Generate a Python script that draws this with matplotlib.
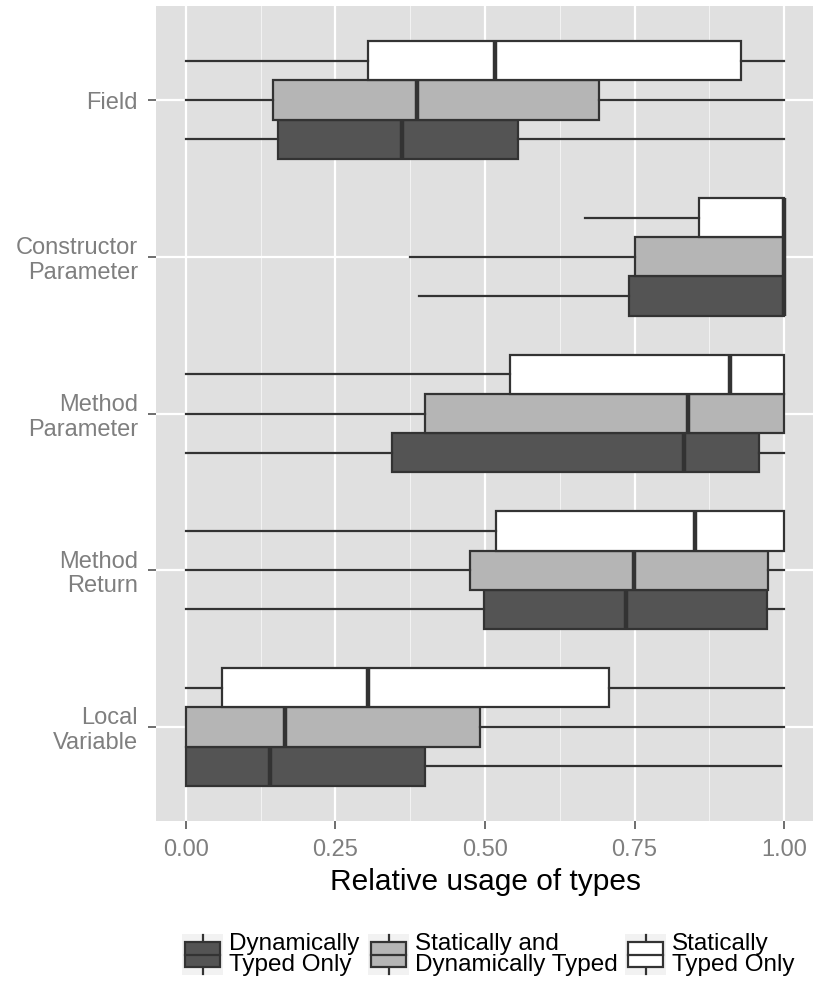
import matplotlib
matplotlib.use('Agg')
import matplotlib.pyplot as plt
from matplotlib.patches import Rectangle

plt.rcParams['font.family'] = ['Liberation Sans', 'DejaVu Sans']

# categories, top to bottom
categories = ['Field', 'Constructor\nParameter', 'Method\nParameter', 'Method\nReturn', 'Local\nVariable']
groups = ['Dynamically\nTyped Only', 'Statically and\nDynamically Typed', 'Statically\nTyped Only']
fills = ['#545454', '#b5b5b5', '#ffffff']

# box stats per group: (whislo, q1, med, q3, whishi) per category
dyn_stats = [
    (0.0, 0.154, 0.362, 0.555, 1.0),
    (0.389, 0.740, 1.0, 1.0, 1.0),
    (0.0, 0.345, 0.832, 0.958, 1.0),
    (0.0, 0.499, 0.735, 0.971, 1.0),
    (0.0, 0.0, 0.141, 0.400, 0.994),
]
both_stats = [
    (0.0, 0.146, 0.387, 0.691, 1.0),
    (0.375, 0.751, 1.0, 1.0, 1.0),
    (0.0, 0.400, 0.839, 1.0, 1.0),
    (0.0, 0.475, 0.749, 0.973, 1.0),
    (0.0, 0.0, 0.166, 0.492, 1.0),
]
stat_stats = [
    (0.0, 0.305, 0.516, 0.928, 1.0),
    (0.668, 0.857, 1.0, 1.0, 1.0),
    (0.0, 0.542, 0.909, 1.0, 1.0),
    (0.0, 0.518, 0.851, 1.0, 1.0),
    (0.0, 0.061, 0.305, 0.707, 1.0),
]
all_stats = [dyn_stats, both_stats, stat_stats]
xticks = [0.0, 0.25, 0.5, 0.75, 1.0]
xtick_labels = ['0.00', '0.25', '0.50', '0.75', '1.00']

W, H = 813, 985
fig = plt.figure(figsize=(W / 100, H / 100), dpi=100)
ax = fig.add_axes([156 / W, (H - 821) / H, 658 / W, 815 / H])
ax.set_facecolor('#e0e0e0')

edge = '#333333'
n = len(categories)
offsets = [-0.25, 0.0, 0.25]
for g, stats in enumerate(all_stats):
    bxp_stats = []
    positions = []
    for i, (lo, q1, med, q3, hi) in enumerate(stats):
        bxp_stats.append(dict(whislo=lo, q1=q1, med=med, q3=q3, whishi=hi, fliers=[]))
        positions.append(n - i + offsets[g])
    ax.bxp(bxp_stats, positions=positions, widths=0.25, orientation='horizontal',
           showcaps=False, showfliers=False, patch_artist=True,
           boxprops=dict(facecolor=fills[g], edgecolor=edge, linewidth=1.6),
           whiskerprops=dict(color=edge, linewidth=1.6),
           medianprops=dict(color=edge, linewidth=3.2, solid_capstyle='butt'),
           zorder=3)

ax.set_xlim(-0.05, 1.05)
ax.set_ylim(0.4, n + 0.6)
ax.set_xticks(xticks)
ax.set_xticklabels(xtick_labels)
ax.set_xticks([0.125, 0.375, 0.625, 0.875], minor=True)
ax.set_yticks(range(n, 0, -1))
ax.set_yticklabels(categories, linespacing=1.15)
ax.grid(which='major', color='white', linewidth=1.6, zorder=0)
ax.grid(which='minor', axis='x', color='#f2f2f2', linewidth=0.8, zorder=0)
ax.set_axisbelow(True)
for s in ax.spines.values():
    s.set_visible(False)
ax.tick_params(axis='both', which='major', colors='#555555', labelcolor='#7f7f7f',
               labelsize=17, length=6, width=1.2, pad=7)
ax.tick_params(axis='both', which='minor', length=0)
ax.set_xlabel('Relative usage of types', fontsize=21.5, color='black', labelpad=5)

# legend drawn in pixel coordinates
lax = fig.add_axes([0, 0, 1, 1])
lax.set_xlim(0, W)
lax.set_ylim(H, 0)
lax.axis('off')
key_x = [182, 368, 625]
text_x = [229, 415, 672]
key_top, key_size = 934, 41
for g in range(3):
    kx = key_x[g]
    lax.add_patch(Rectangle((kx, key_top), key_size, key_size, facecolor='#f2f2f2', edgecolor='none'))
    cx = kx + key_size / 2
    lax.plot([cx, cx], [key_top + 1, key_top + key_size - 1], color=edge, linewidth=1.6)
    lax.add_patch(Rectangle((kx + 3, key_top + 8), key_size - 6, key_size - 16,
                            facecolor=fills[g], edgecolor=edge, linewidth=1.6, zorder=3))
    lax.plot([kx + 3, kx + key_size - 3], [key_top + key_size / 2] * 2, color=edge,
             linewidth=1.6, zorder=4)
    lax.text(text_x[g], key_top + key_size / 2, groups[g], fontsize=17.5, va='center', ha='left',
             linespacing=0.95, color='black')

fig.savefig('out.png', dpi=100)
